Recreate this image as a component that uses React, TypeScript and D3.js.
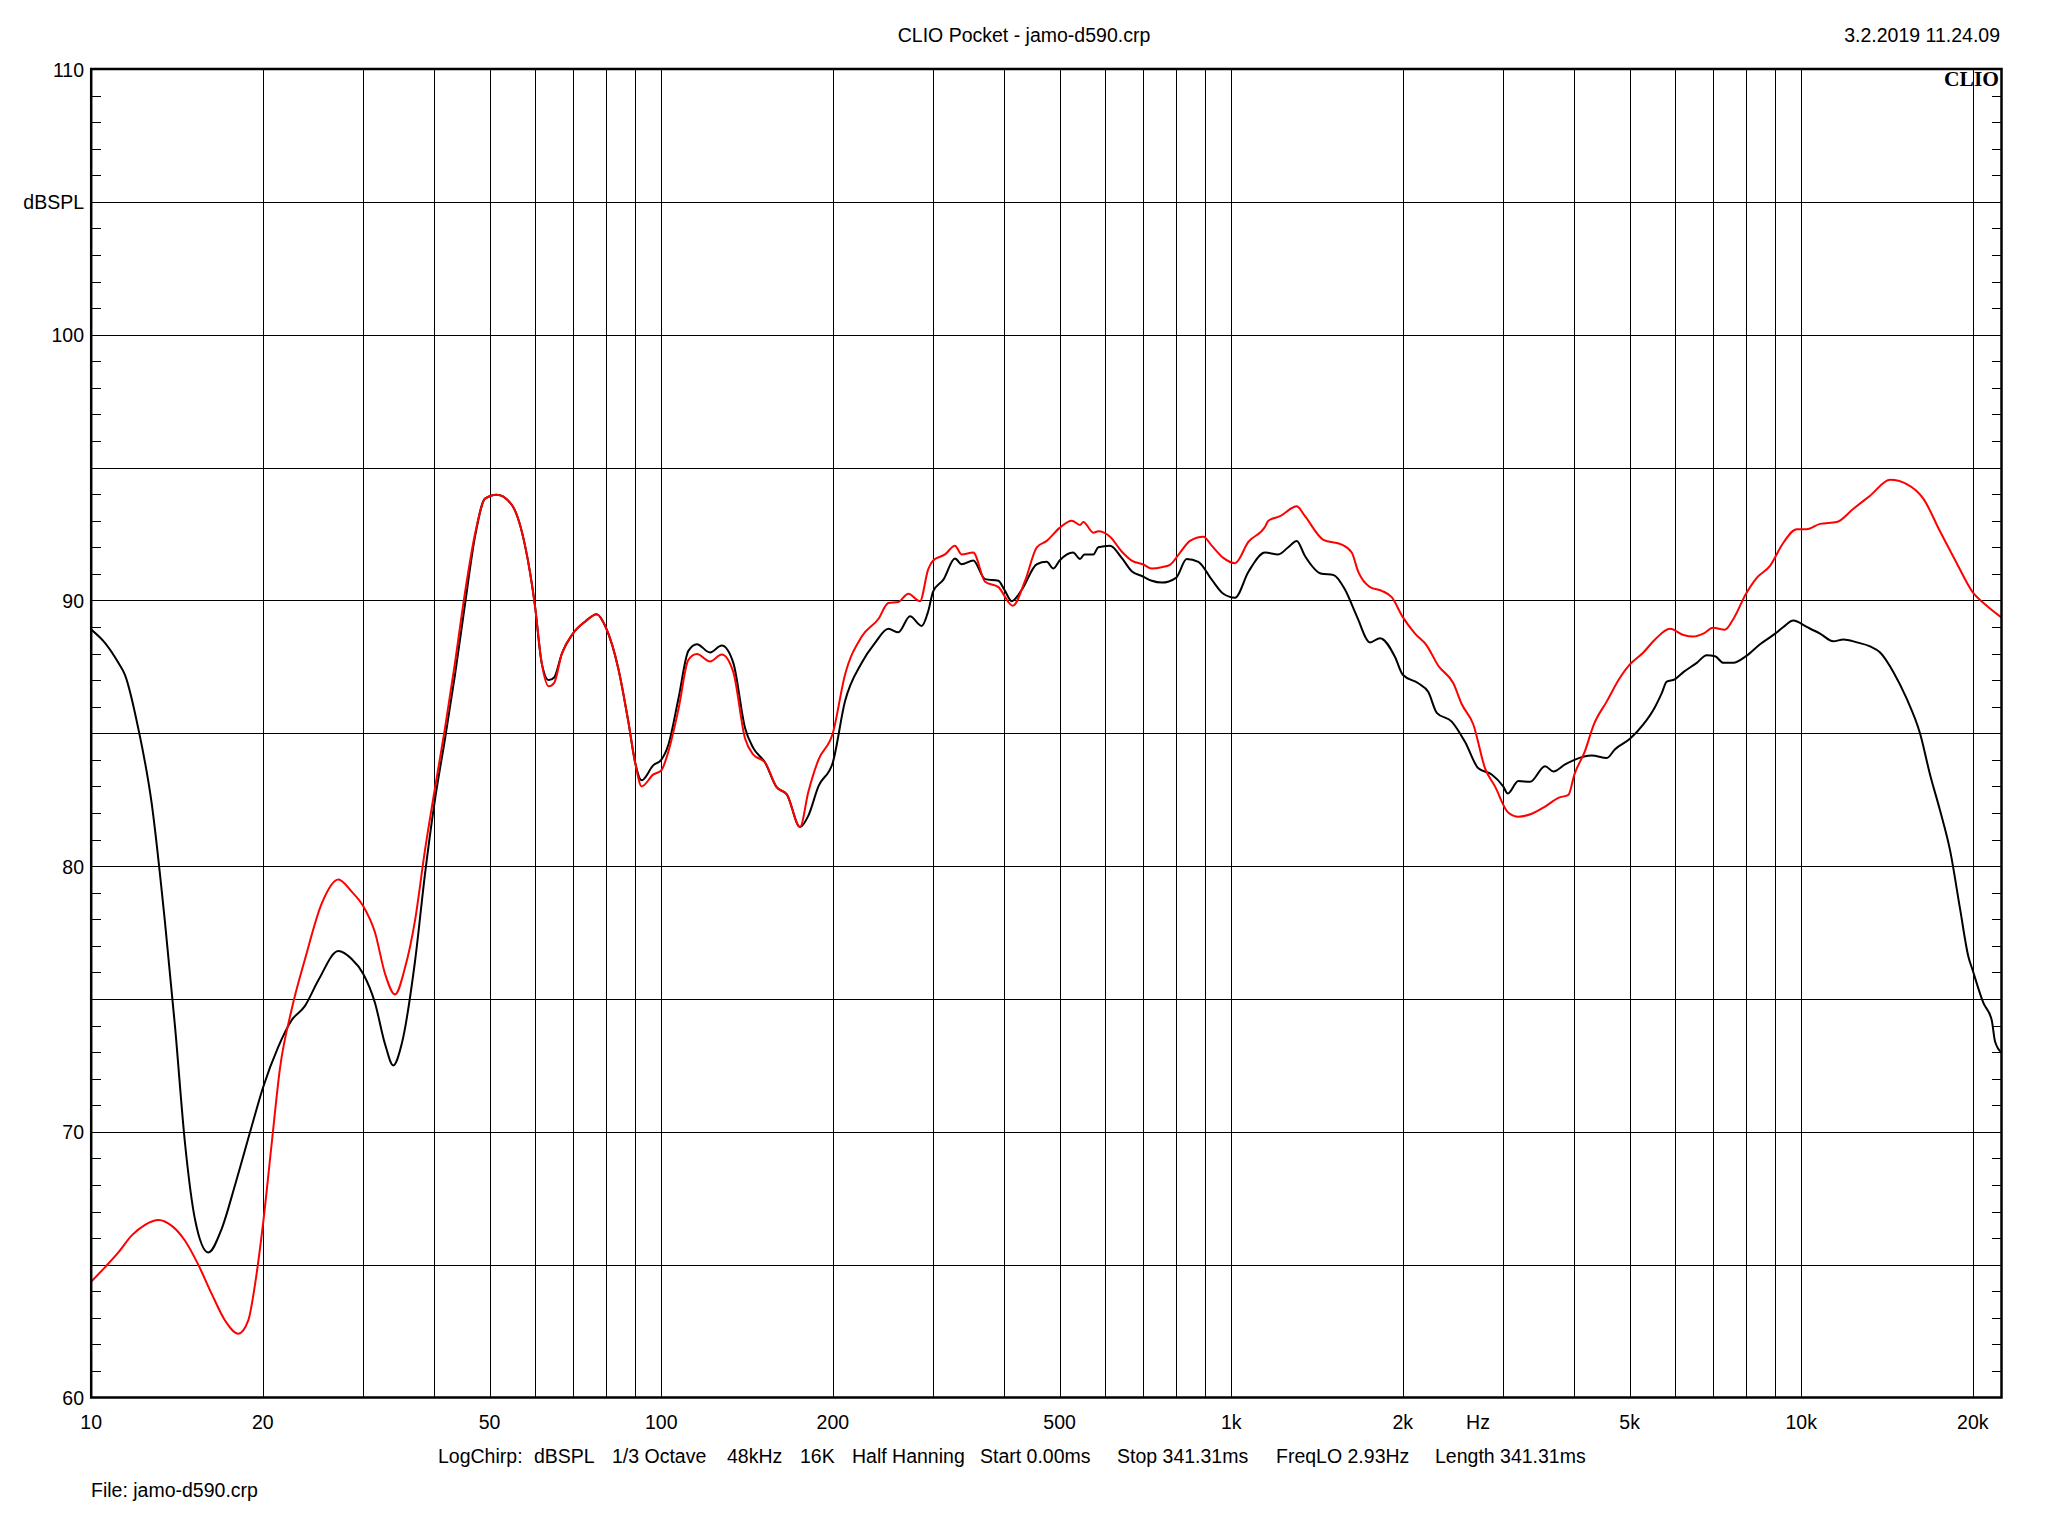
import React from "react";
import * as d3 from "d3";

// ---- data ----
const blackFreq = [10, 10.57, 11.16, 11.46, 12.09, 12.77, 13.47, 14.03, 14.61, 15.21, 16.05, 16.94, 17.88, 19.12, 20, 21.29, 22.47, 23.72, 25.03, 27.14, 28.64, 30, 31.47, 32.77, 33.88, 35.05, 36.98, 38.51, 40, 41.76, 43.47, 45.27, 47.13, 49.08, 51.44, 54.67, 57.69, 60, 61.7, 63.5, 64.9, 66.9, 70, 73.5, 77.08, 80, 84.1, 87.56, 90, 92.4, 96.9, 100, 102.9, 107.2, 111.6, 115.5, 121.8, 127.7, 133.8, 140.3, 145, 152.1, 159.4, 166.1, 175.2, 181.2, 188.7, 200, 210.1, 224.8, 237.2, 250.3, 260.6, 273.2, 286.4, 294.1, 300, 312.6, 327.6, 336.6, 352.7, 370, 390.4, 400, 412.1, 429.1, 455.9, 474.6, 487.5, 500, 528, 542.9, 552.4, 572.9, 584.5, 612.9, 642.5, 669, 700, 725.3, 755.2, 800, 835.4, 875.6, 924.3, 968.6, 1015.5, 1071.5, 1146.5, 1209, 1259, 1303, 1347, 1441, 1511, 1584, 1661, 1752, 1824, 1938, 2000, 2129, 2217, 2294, 2437, 2572, 2713, 2864, 3000, 3056, 3189, 3344, 3553, 3675, 3852, 4000, 4291, 4559, 4714, 5000, 5284, 5540, 5690, 5808, 6000, 6212, 6557, 6826, 7060, 7300, 7601, 8000, 8467, 9000, 9303, 9685, 10224, 10789, 11385, 11856, 12515, 13204, 13753, 14514, 15311, 16156, 16823, 17515, 18239, 18992, 19640, 20000, 20870, 21587, 21878, 22476];
const blackDb = [88.9, 88.4, 87.65, 87.2, 85.2, 82.35, 77.9, 73.96, 69.55, 66.7, 65.46, 66.35, 68.0, 70.2, 71.64, 73.2, 74.2, 74.74, 75.7, 76.8, 76.5, 75.95, 74.85, 73.3, 72.5, 73.3, 76.4, 79.7, 82.35, 84.8, 87.2, 89.86, 92.4, 93.83, 93.98, 93.6, 92.06, 89.86, 87.65, 87.0, 87.1, 87.98, 88.75, 89.2, 89.48, 88.97, 87.43, 85.44, 83.9, 83.23, 83.8, 84.0, 84.56, 86.3, 88.1, 88.35, 88.04, 88.3, 87.65, 85.2, 84.45, 83.9, 82.97, 82.7, 81.47, 81.9, 83.0, 83.9, 86.2, 87.65, 88.4, 88.93, 88.8, 89.4, 89.04, 89.6, 90.34, 90.78, 91.58, 91.36, 91.5, 90.8, 90.74, 90.4, 89.97, 90.4, 91.36, 91.45, 91.2, 91.5, 91.8, 91.56, 91.73, 91.73, 92.0, 92.06, 91.6, 91.1, 90.9, 90.74, 90.67, 90.85, 91.56, 91.45, 90.78, 90.25, 90.1, 91.07, 91.8, 91.73, 92.0, 92.24, 91.67, 91.0, 90.96, 90.4, 89.4, 88.42, 88.58, 87.87, 87.2, 86.88, 86.55, 85.77, 85.44, 84.67, 83.68, 83.45, 83.0, 82.73, 83.2, 83.17, 83.76, 83.56, 83.83, 84.0, 84.16, 84.07, 84.4, 84.78, 85.33, 85.99, 86.5, 86.94, 87.03, 87.3, 87.65, 87.94, 87.9, 87.65, 87.65, 87.9, 88.35, 88.75, 89.0, 89.24, 89.0, 88.75, 88.46, 88.53, 88.42, 88.27, 88.04, 87.3, 86.3, 85.0, 83.45, 82.1, 80.6, 78.4, 76.6, 76.06, 74.85, 74.2, 73.4, 72.97];

const redFreq = [10, 10.57, 11.16, 11.78, 12.43, 13.12, 13.85, 14.61, 15.41, 16.27, 17.17, 18.12, 18.86, 19.38, 20, 20.73, 21.44, 22.47, 23.72, 25.38, 27.14, 28.64, 30, 31.47, 32.77, 34.12, 35.52, 36.98, 38.51, 40, 41.76, 43.47, 45.27, 47.13, 49.08, 51.44, 54.67, 57.69, 60, 61.7, 63.5, 64.9, 66.9, 70, 73.5, 77.08, 80, 84.1, 87.56, 90, 92.4, 96.9, 100, 102.9, 107.2, 111.6, 115.5, 121.8, 127.7, 133.8, 140.3, 145, 152.1, 159.4, 166.1, 175.2, 181.2, 188.7, 200, 210.1, 224.8, 240.4, 250.3, 260.6, 271.3, 284.4, 294.1, 300, 314.7, 327.6, 336.6, 352.7, 370, 390.4, 413.8, 434.9, 455.9, 474.6, 500, 525.1, 542.9, 550.2, 572.9, 584.5, 612.9, 642.5, 669, 700, 725.3, 755.2, 780.9, 813.2, 846.6, 893.5, 924.3, 968.6, 1015.5, 1071.5, 1146.5, 1162, 1218, 1303, 1347, 1451, 1563, 1627, 1671, 1752, 1837, 1912, 2000, 2101, 2203, 2308, 2453, 2537, 2659, 2788, 2902, 3060, 3189, 3367, 3553, 3750, 3904, 4000, 4176, 4319, 4559, 4810, 5000, 5284, 5540, 5886, 6212, 6468, 6733, 7000, 7351, 7601, 8000, 8355, 8815, 9303, 9819, 10224, 10789, 11543, 12344, 13204, 14321, 15311, 16374, 17515, 18741, 20000, 21155, 22476];
const redDb = [64.36, 64.9, 65.46, 66.1, 66.5, 66.68, 66.46, 65.9, 65.0, 63.9, 62.9, 62.4, 62.9, 64.25, 66.46, 69.55, 72.4, 74.6, 76.5, 78.6, 79.5, 79.04, 78.5, 77.5, 75.95, 75.17, 76.17, 77.94, 80.6, 82.8, 85.2, 87.65, 90.3, 92.5, 93.83, 93.98, 93.6, 92.06, 89.86, 87.65, 86.77, 86.9, 87.98, 88.75, 89.2, 89.48, 88.97, 87.43, 85.44, 83.9, 83.0, 83.45, 83.6, 84.3, 85.9, 87.76, 87.98, 87.7, 87.96, 87.3, 84.8, 84.2, 83.9, 82.97, 82.7, 81.47, 82.8, 84.0, 85.0, 87.2, 88.64, 89.3, 89.9, 89.94, 90.25, 89.97, 91.18, 91.5, 91.73, 92.06, 91.73, 91.8, 90.7, 90.5, 89.8, 90.74, 92.0, 92.24, 92.73, 93.0, 92.84, 92.95, 92.55, 92.6, 92.4, 91.84, 91.5, 91.36, 91.2, 91.25, 91.34, 91.8, 92.24, 92.4, 92.06, 91.6, 91.4, 92.2, 92.77, 93.0, 93.17, 93.54, 93.17, 92.28, 92.1, 91.8, 91.07, 90.5, 90.36, 90.12, 89.37, 88.75, 88.3, 87.54, 86.88, 86.1, 85.33, 83.68, 83.0, 82.02, 81.86, 81.97, 82.24, 82.57, 82.68, 83.45, 84.34, 85.29, 86.2, 87.1, 87.58, 88.04, 88.53, 88.93, 88.7, 88.64, 88.75, 88.97, 88.9, 89.3, 90.25, 90.85, 91.3, 92.17, 92.68, 92.68, 92.88, 92.95, 93.45, 93.94, 94.54, 94.38, 93.83, 92.6, 91.4, 90.3, 89.8, 89.35];

const gridFreqs = [20, 30, 40, 50, 60, 70, 80, 90, 100, 200, 300, 400, 500, 600, 700, 800, 900, 1000, 2000, 3000, 4000, 5000, 6000, 7000, 8000, 9000, 10000, 20000];
const xTickValues = [10, 20, 50, 100, 200, 500, 1000, 2000, 5000, 10000, 20000];
const xTickLabels = ["10", "20", "50", "100", "200", "500", "1k", "2k", "5k", "10k", "20k"];
const hzLabelFreq = 2710;
const yGridValues = [65, 70, 75, 80, 85, 90, 95, 100, 105];
const yTickValues = [60, 70, 80, 90, 100, 105, 110];
const yTickLabels = ["60", "70", "80", "90", "100", "dBSPL", "110"];
const title = "CLIO Pocket - jamo-d590.crp";
const dateText = "3.2.2019 11.24.09";
const infoItems = ["LogChirp:", "dBSPL", "1/3 Octave", "48kHz", "16K", "Half Hanning", "Start 0.00ms", "Stop 341.31ms", "FreqLO 2.93Hz", "Length 341.31ms"];
const infoX = [438, 534, 612, 727, 800, 852, 980, 1117, 1276, 1435];
const fileText = "File: jamo-d590.crp";

const W = 2048, H = 1536;
const L = 91.2, R = 2001.5, T = 69, B = 1397.5;
const FONT = "'Liberation Sans', Arial, sans-serif";

export default function App() {
  const x = d3.scaleLog().domain([10, 22455]).range([L, R]);
  const y = d3.scaleLinear().domain([60, 110]).range([B, T]);
  const line = d3
    .line<[number, number]>()
    .x((d) => x(d[0]))
    .y((d) => y(d[1]))
    .curve(d3.curveMonotoneX);
  const blackPts = blackFreq.map((f, i) => [f, blackDb[i]] as [number, number]);
  const redPts = redFreq.map((f, i) => [f, redDb[i]] as [number, number]);
  const crisp = (v: number) => Math.round(v) + 0.5;
  const minor = d3.range(61, 110).filter((v) => v % 5 !== 0);

  return (
    <svg width={W} height={H} style={{ position: "absolute", left: 0, top: 0, background: "#fff" }}>
      <rect x={0} y={0} width={W} height={H} fill="#fff" />
      <defs>
        <clipPath id="plotclip">
          <rect x={L} y={T} width={R - L} height={B - T} />
        </clipPath>
      </defs>
      {/* grid */}
      <g stroke="#000" strokeWidth={1} shapeRendering="crispEdges">
        {gridFreqs.map((f) => (
          <line key={"gx" + f} x1={crisp(x(f))} x2={crisp(x(f))} y1={T} y2={B} />
        ))}
        {yGridValues.map((v) => (
          <line key={"gy" + v} x1={L} x2={R} y1={crisp(y(v))} y2={crisp(y(v))} />
        ))}
        {minor.map((v) => (
          <g key={"m" + v}>
            <line x1={L} x2={L + 10} y1={crisp(y(v))} y2={crisp(y(v))} />
            <line x1={R - 10} x2={R} y1={crisp(y(v))} y2={crisp(y(v))} />
          </g>
        ))}
      </g>
      {/* CLIO logo */}
      <text x={1999} y={86} textAnchor="end" fontFamily="'Liberation Serif', 'Times New Roman', serif" fontWeight="bold" fontSize={21.5} fill="#000">
        CLIO
      </text>
      {/* curves */}
      <g clipPath="url(#plotclip)" fill="none" strokeWidth={2} strokeLinejoin="round">
        <path d={line(blackPts) || ""} stroke="#000" />
        <path d={line(redPts) || ""} stroke="#ff0000" />
      </g>
      {/* frame */}
      <rect x={L} y={T} width={R - L} height={B - T} fill="none" stroke="#000" strokeWidth={2.5} />
      {/* texts */}
      <g fontFamily={FONT} fontSize={19.5} fill="#000">
        <text x={1024} y={42} textAnchor="middle">{title}</text>
        <text x={2000} y={42} textAnchor="end">{dateText}</text>
        {yTickValues.map((v, i) => (
          <text key={"yl" + v} x={84} y={y(v) + 7.5} textAnchor="end">{yTickLabels[i]}</text>
        ))}
        {xTickValues.map((f, i) => (
          <text key={"xl" + f} x={x(f)} y={1428.5} textAnchor="middle">{xTickLabels[i]}</text>
        ))}
        <text x={x(hzLabelFreq)} y={1428.5} textAnchor="middle">Hz</text>
        {infoItems.map((s, i) => (
          <text key={"inf" + i} x={infoX[i]} y={1463}>{s}</text>
        ))}
        <text x={91} y={1497}>{fileText}</text>
      </g>
    </svg>
  );
}
